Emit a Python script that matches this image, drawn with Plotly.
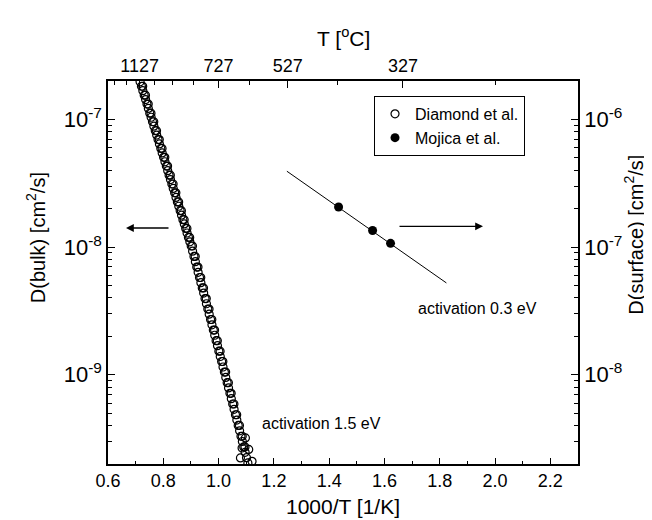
import plotly.graph_objects as go
import math

# ---------------- data ----------------
# Diamond et al. (bulk diffusion, left axis) - main run
bulk_x = [0.716, 0.721, 0.726, 0.731, 0.736, 0.741, 0.746, 0.751, 0.756, 0.761,
          0.766, 0.771, 0.776, 0.781, 0.786, 0.791, 0.796, 0.801, 0.806, 0.811,
          0.816, 0.821, 0.826, 0.831, 0.836, 0.841, 0.846, 0.851, 0.856, 0.861,
          0.866, 0.871, 0.876, 0.881, 0.886, 0.891, 0.896, 0.901, 0.906, 0.911,
          0.916, 0.921, 0.926, 0.931, 0.936, 0.941, 0.946, 0.951, 0.956, 0.961,
          0.966, 0.971, 0.976, 0.981, 0.986, 0.991, 0.996, 1.001, 1.006, 1.011,
          1.016, 1.021, 1.026, 1.031, 1.036, 1.041, 1.046, 1.051, 1.056, 1.061,
          1.066, 1.071, 1.076, 1.081, 1.086, 1.091, 1.096, 1.101, 1.106,
          1.085, 1.109, 1.079, 1.121, 1.097]
bulk_D = [1.97e-7, 1.82e-7, 1.68e-7, 1.55e-7, 1.43e-7, 1.32e-7, 1.22e-7, 1.12e-7, 1.04e-7, 9.59e-8,
          8.85e-8, 8.17e-8, 7.54e-8, 6.95e-8, 6.43e-8, 5.93e-8, 5.47e-8, 5.05e-8, 4.66e-8, 4.31e-8,
          3.97e-8, 3.66e-8, 3.38e-8, 3.12e-8, 2.88e-8, 2.66e-8, 2.45e-8, 2.26e-8, 2.09e-8, 1.93e-8,
          1.78e-8, 1.64e-8, 1.52e-8, 1.40e-8, 1.29e-8, 1.19e-8, 1.10e-8, 1.02e-8, 9.29e-9, 8.45e-9,
          7.69e-9, 6.98e-9, 6.35e-9, 5.78e-9, 5.26e-9, 4.79e-9, 4.36e-9, 3.95e-9, 3.60e-9, 3.27e-9,
          2.98e-9, 2.71e-9, 2.46e-9, 2.24e-9, 2.04e-9, 1.85e-9, 1.69e-9, 1.53e-9, 1.39e-9, 1.27e-9,
          1.15e-9, 1.05e-9, 9.53e-10, 8.67e-10, 7.89e-10, 7.16e-10, 6.50e-10, 5.90e-10, 5.36e-10, 4.86e-10,
          4.42e-10, 4.01e-10, 3.64e-10, 3.30e-10, 3.00e-10, 2.72e-10, 2.47e-10, 2.24e-10, 2.04e-10,
          2.67e-10, 2.60e-10, 2.23e-10, 2.10e-10, 3.20e-10]

# Diamond et al. - second (overlapping) run, slightly shifted in the picture
bulk2_x = [0.7255, 0.7355, 0.7455, 0.7555, 0.7655, 0.7755, 0.7855, 0.7955, 0.8055, 0.8155,
           0.8255, 0.8355, 0.8455, 0.8555, 0.8655, 0.8755, 0.8855, 0.8955, 0.9055, 0.9155,
           0.9255, 0.9355, 0.9455, 0.9555, 0.9655, 0.9755, 0.9855, 0.9955, 1.0055, 1.0155,
           1.0255, 1.0355, 1.0455, 1.0555, 1.0655, 1.0755, 1.0855, 1.0955]
bulk2_D = [1.82e-7, 1.55e-7, 1.32e-7, 1.12e-7, 9.59e-8, 8.17e-8, 6.95e-8, 5.93e-8, 5.05e-8, 4.31e-8,
           3.66e-8, 3.12e-8, 2.66e-8, 2.26e-8, 1.93e-8, 1.64e-8, 1.40e-8, 1.19e-8, 1.02e-8, 8.45e-9,
           6.98e-9, 5.78e-9, 4.79e-9, 3.95e-9, 3.27e-9, 2.71e-9, 2.24e-9, 1.85e-9, 1.53e-9, 1.27e-9,
           1.05e-9, 8.67e-10, 7.16e-10, 5.90e-10, 4.86e-10, 4.01e-10, 3.30e-10, 2.72e-10]

# Mojica et al. (surface diffusion, right axis)
surf_x = [1.434, 1.557, 1.622]
surf_D = [2.06e-7, 1.35e-7, 1.07e-7]

# Arrhenius fit line through Mojica data (0.3 eV)
fit_x = [1.247, 1.824]
fit_D = [3.93e-7, 5.24e-8]

# axis ticks
x_ticks = [0.6, 0.8, 1.0, 1.2, 1.4, 1.6, 1.8, 2.0, 2.2]
top_T_labels = [1127, 727, 527, 327]
top_T_minor = [1327, 1227, 1027, 927, 827, 627, 427, 227]
left_decades = [1e-9, 1e-8, 1e-7]
right_decades = [1e-8, 1e-7, 1e-6]

FONT = "Liberation Sans, Arial, sans-serif"


def minor_log(decs):
    vals = []
    for d in [decs[0] / 10] + decs:
        for k in range(2, 10):
            vals.append(k * d)
    return vals


def sup_label(v):
    e = int(round(math.log10(v)))
    return f"10<sup>{e}</sup>"


fig = go.Figure()

open_marker = dict(symbol="circle-open", size=8, color="black", line=dict(width=1.2, color="black"))

fig.add_trace(go.Scatter(
    x=bulk2_x, y=bulk2_D, mode="markers", showlegend=False,
    marker=open_marker, xaxis="x", yaxis="y"))

fig.add_trace(go.Scatter(
    x=bulk_x, y=bulk_D, mode="markers", name="Diamond et al.",
    marker=open_marker, xaxis="x", yaxis="y"))

fig.add_trace(go.Scatter(
    x=fit_x, y=fit_D, mode="lines", showlegend=False,
    line=dict(color="black", width=1), xaxis="x", yaxis="y2"))

fig.add_trace(go.Scatter(
    x=surf_x, y=surf_D, mode="markers", name="Mojica et al.",
    marker=dict(symbol="circle", size=9, color="black"),
    xaxis="x", yaxis="y2"))

# invisible trace to anchor top axis
fig.add_trace(go.Scatter(x=[0.6], y=[1e-9], mode="markers", showlegend=False,
                         marker=dict(opacity=0), hoverinfo="skip", xaxis="x2", yaxis="y"))

top_vals = [1000.0 / (t + 273) for t in top_T_labels]
top_minor_vals = [1000.0 / (t + 273) for t in top_T_minor]

TICKFONT = dict(family=FONT, size=18, color="black")
YTICKFONT = dict(family=FONT, size=22, color="black")

axis_common = dict(showline=True, linecolor="black", linewidth=1.5, ticks="inside",
                   tickcolor="black", tickwidth=1.2, showgrid=False, zeroline=False)

minor_style = dict(ticks="inside", tickcolor="black", tickwidth=1.2)

fig.update_layout(
    width=652, height=520, autosize=False,
    margin=dict(l=100, r=82, t=73, b=64),
    paper_bgcolor="white", plot_bgcolor="white",
    font=dict(family=FONT, color="black"),
    xaxis=dict(range=[0.6, 2.3], tickmode="array", tickvals=x_ticks,
               ticktext=[f"{v:.1f}" for v in x_ticks], ticklen=6, tickfont=TICKFONT,
               minor=dict(tickmode="linear", tick0=0.6, dtick=0.1, ticklen=3, **minor_style),
               mirror=False, **axis_common),
    xaxis2=dict(range=[0.6, 2.3], overlaying="x", side="top", anchor="y",
                tickmode="array", tickvals=top_vals, ticktext=[str(t) for t in top_T_labels],
                ticklen=7, tickfont=TICKFONT,
                minor=dict(tickmode="array", tickvals=top_minor_vals, ticklen=4, **minor_style),
                **axis_common),
    yaxis=dict(type="log", range=[-9.69897, -6.69897], tickmode="array",
               tickvals=left_decades, ticktext=[sup_label(v) for v in left_decades],
               ticklen=7, tickfont=YTICKFONT,
               minor=dict(tickmode="array", tickvals=minor_log(left_decades), ticklen=4, **minor_style),
               **axis_common),
    yaxis2=dict(type="log", range=[-8.69897, -5.69897], overlaying="y", side="right",
                anchor="x", tickmode="array",
                tickvals=right_decades, ticktext=[sup_label(v) for v in right_decades],
                ticklen=7, tickfont=YTICKFONT,
                minor=dict(tickmode="array", tickvals=minor_log(right_decades), ticklen=4, **minor_style),
                **axis_common),
    legend=dict(x=0.566, y=0.961, xanchor="left", yanchor="top",
                bgcolor="white", bordercolor="black", borderwidth=1,
                font=dict(family=FONT, size=16, color="black"),
                tracegroupgap=0, itemwidth=30),
    showlegend=True,
)

TITLEFONT = dict(family=FONT, size=21, color="black")
YTITLEFONT = dict(family=FONT, size=20, color="black")
LABELFONT = dict(family=FONT, size=16, color="black")

ann = []
# axis titles
ann.append(dict(text="1000/T [1/K]", x=0.5, y=-0.11, xref="paper", yref="paper",
                showarrow=False, font=TITLEFONT, xanchor="center", yanchor="middle"))
ann.append(dict(text="T [<sup>o</sup>C]", x=0.5, y=1.115, xref="paper", yref="paper",
                showarrow=False, font=TITLEFONT, xanchor="center", yanchor="middle"))
ann.append(dict(text="D(bulk) [cm<sup>2</sup>/s]", x=-0.155, y=0.59, xref="paper", yref="paper",
                showarrow=False, textangle=-90, font=YTITLEFONT,
                xanchor="center", yanchor="middle"))
ann.append(dict(text="D(surface) [cm<sup>2</sup>/s]", x=1.118, y=0.6, xref="paper", yref="paper",
                showarrow=False, textangle=-90, font=YTITLEFONT,
                xanchor="center", yanchor="middle"))
# text labels
ann.append(dict(text="activation 1.5 eV", x=0.3234, y=0.107, xref="paper", yref="paper",
                showarrow=False, font=LABELFONT, xanchor="left", yanchor="middle"))
ann.append(dict(text="activation 0.3 eV", x=0.655, y=0.405, xref="paper", yref="paper",
                showarrow=False, font=LABELFONT, xanchor="left", yanchor="middle"))
# arrows
ann.append(dict(text="", x=0.0383, y=0.6162, xref="paper", yref="paper",
                ax=44, ay=0, axref="pixel", ayref="pixel", showarrow=True,
                arrowhead=2, arrowsize=1.2, arrowwidth=1.3, arrowcolor="black"))
ann.append(dict(text="", x=0.7979, y=0.6206, xref="paper", yref="paper",
                ax=-85, ay=0, axref="pixel", ayref="pixel", showarrow=True,
                arrowhead=2, arrowsize=1.2, arrowwidth=1.3, arrowcolor="black"))
fig.update_layout(annotations=ann)

fig.write_html("out.html")
